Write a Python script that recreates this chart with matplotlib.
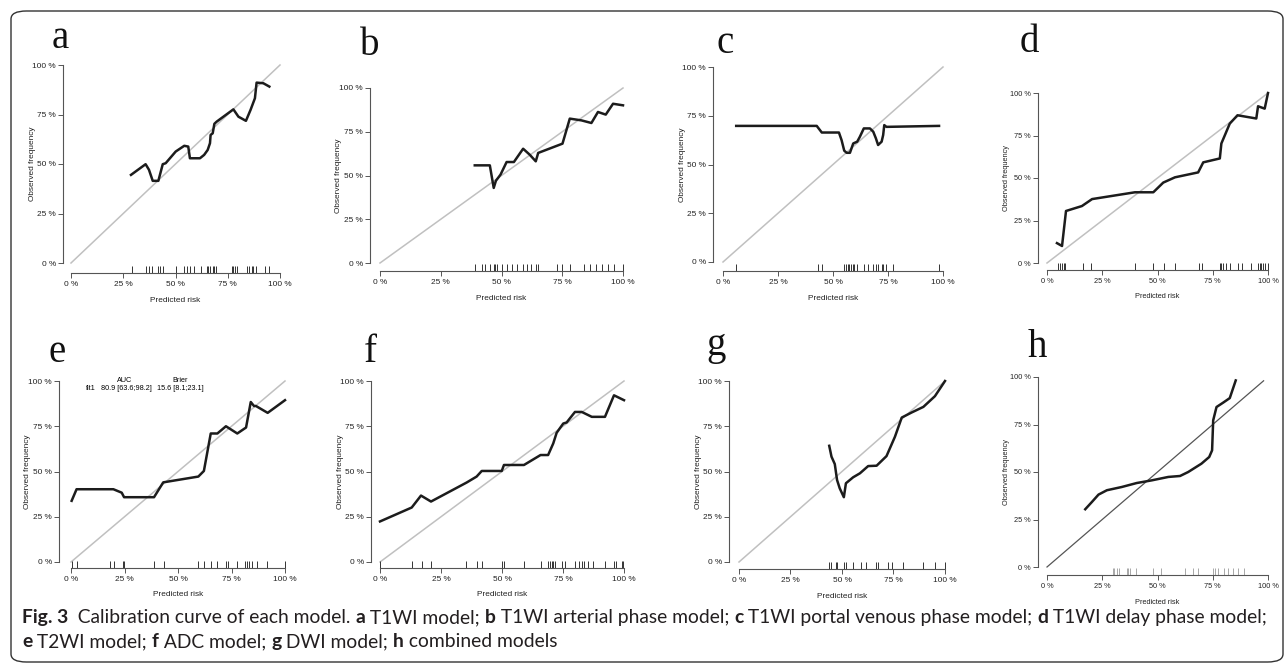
import matplotlib
matplotlib.use("Agg")
import matplotlib.pyplot as plt
from matplotlib.patches import FancyBboxPatch

plt.rcParams["font.family"] = ["Liberation Sans", "DejaVu Sans"]

# ---- data (percent) ----
a_x = [28.7, 35.7, 37.3, 39.1, 41.8, 43.9, 45.3, 50.1, 54.2, 56.1, 56.9, 61.7, 63.7, 65.4,
       66.5, 66.8, 67.8, 68.6, 69.7, 77.7, 80.1, 83.7, 85.9, 88.0, 88.8, 92.0, 94.9]
a_y = [44.5, 49.9, 47.1, 41.5, 41.5, 49.9, 50.4, 56.3, 59.2, 58.8, 52.9, 52.9, 54.6, 57.1,
       60.5, 64.7, 65.5, 70.3, 71.4, 77.6, 73.9, 71.8, 77.3, 83.2, 91.1, 90.8, 89.1]
a_rug = [29.3, 35.9, 37.3, 38.6, 41.5, 42.6, 44.2, 50.1, 54.2, 55.3, 56.9, 59.0, 62.0, 64.9,
         65.7, 66.5, 67.8, 68.6, 69.4, 76.9, 77.7, 78.5, 79.3, 84.1, 85.3, 86.4, 87.2, 88.5,
         92.8, 94.9]

b_x = [39.0, 45.2, 46.8, 47.7, 49.6, 52.1, 55.1, 58.9, 61.6, 64.1, 65.1, 75.1, 78.1, 82.9,
       87.0, 89.7, 92.9, 95.9, 100.0]
b_y = [55.8, 55.8, 42.9, 47.0, 50.5, 57.7, 57.7, 65.3, 61.9, 58.1, 62.9, 68.2, 82.5, 81.5,
       80.0, 86.3, 84.8, 91.0, 90.1]
b_rug = [39.0, 41.8, 43.4, 45.2, 46.8, 47.5, 48.2, 50.0, 52.1, 54.5, 56.4, 58.9, 60.5, 62.1,
         64.1, 65.1, 72.9, 75.1, 78.1, 84.0, 86.6, 89.0, 91.5, 93.8, 96.2, 100.0]

c_x = [6.0, 42.6, 44.9, 52.7, 53.9, 55.1, 56.2, 57.7, 59.2, 61.0, 62.2, 64.0, 66.8, 68.3,
       69.5, 70.5, 72.1, 72.8, 73.3, 74.3, 98.2]
c_y = [69.8, 69.8, 66.4, 66.4, 62.5, 57.1, 56.0, 56.0, 60.8, 61.7, 64.2, 68.5, 68.5, 66.8,
       63.4, 60.0, 61.7, 65.1, 70.2, 69.3, 69.8]
c_rug = [6.0, 43.1, 44.9, 55.0, 55.9, 56.6, 57.4, 58.2, 58.9, 59.7, 60.7, 64.2, 66.0, 68.3,
         69.5, 70.5, 72.1, 72.8, 73.9, 77.3, 98.0]

d_x = [4.5, 6.8, 8.6, 15.8, 20.4, 39.8, 48.1, 52.6, 57.9, 68.4, 70.7, 78.2, 78.9, 82.7,
       86.2, 94.7, 95.5, 98.5, 100.0]
d_y = [11.7, 10.0, 30.6, 33.5, 37.6, 41.6, 41.6, 47.3, 50.4, 53.3, 59.2, 61.5, 70.3, 82.0,
       86.9, 85.0, 92.2, 90.8, 100.0]
d_rug = [5.0, 6.0, 6.8, 7.5, 8.3, 16.2, 20.0, 39.8, 48.1, 53.1, 57.9, 68.9, 70.2, 78.2,
         78.9, 79.7, 81.2, 82.7, 86.2, 88.3, 92.2, 95.5, 96.2, 97.0, 97.7, 98.5, 100.0]

e_x = [0.3, 2.6, 19.8, 23.7, 24.8, 38.8, 43.1, 59.5, 62.1, 65.3, 68.4, 72.4, 77.7, 81.8,
       84.0, 85.5, 86.4, 91.9, 100.0]
e_y = [33.8, 40.2, 40.2, 38.3, 35.8, 35.8, 44.0, 47.2, 50.3, 71.0, 71.0, 75.0, 71.0, 74.3,
       88.4, 86.2, 86.2, 82.4, 89.4]
e_rug = [0.6, 2.6, 18.2, 20.2, 24.1, 24.8, 38.9, 43.5, 59.5, 62.3, 65.3, 68.4, 72.4, 73.5,
         77.4, 81.3, 82.4, 83.3, 84.4, 86.8, 91.7, 100.0]
e_auc = "80.9 [63.6;98.2]"
e_brier = "15.6 [8.1;23.1]"

f_x = [0.0, 13.0, 16.8, 20.9, 35.5, 39.6, 41.7, 49.9, 50.8, 59.0, 65.8, 68.9, 71.0, 72.4,
       75.1, 76.5, 79.9, 82.7, 86.8, 92.2, 95.9, 100.0]
f_y = [22.4, 30.1, 36.7, 33.4, 43.9, 47.2, 50.3, 50.3, 53.6, 53.6, 59.1, 59.1, 65.5, 71.4,
       76.5, 77.1, 82.9, 82.9, 80.2, 80.2, 92.1, 89.4]
f_rug = [0.0, 13.0, 17.1, 20.9, 35.2, 39.6, 41.7, 49.9, 50.8, 59.0, 65.8, 68.9, 69.7, 70.4,
         71.0, 71.7, 74.7, 75.8, 79.9, 81.7, 82.7, 83.6, 85.4, 87.4, 92.2, 95.9, 96.6, 99.0,
         99.7]

g_x = [43.8, 44.9, 46.5, 47.6, 48.9, 50.9, 51.9, 55.4, 58.7, 62.7, 66.8, 71.6, 75.7, 79.0,
       83.8, 89.5, 95.1, 100.0]
g_y = [64.2, 58.2, 54.1, 45.3, 40.7, 35.8, 43.5, 46.8, 49.0, 53.0, 53.2, 58.5, 69.2, 79.8,
       82.6, 85.7, 91.6, 100.0]
g_rug = [43.8, 44.6, 47.0, 47.8, 50.9, 51.7, 55.1, 59.0, 61.6, 66.5, 67.6, 72.5, 74.2, 79.6,
         89.3, 95.3, 100.0]

h_x = [17.3, 20.3, 23.3, 27.1, 33.8, 40.6, 47.4, 54.9, 60.2, 63.9, 69.9, 73.4, 74.7, 75.2,
       76.7, 79.7, 82.7, 85.4]
h_y = [30.4, 34.2, 38.1, 40.4, 42.1, 44.2, 45.6, 47.4, 47.9, 50.0, 54.4, 57.9, 61.4, 77.2,
       84.2, 86.5, 88.9, 98.2]
h_rug = [29.8, 30.4, 31.6, 32.8, 36.1, 36.8, 37.6, 40.2, 48.1, 51.6, 62.4, 66.2, 68.4, 75.2,
         75.9, 77.4, 80.1, 82.0, 84.2, 86.2, 89.2]

tick_vals = [0, 25, 50, 75, 100]
tick_labels = ["0 %", "25 %", "50 %", "75 %", "100 %"]

W, H = 1285, 668
fig = plt.figure(figsize=(W / 100, H / 100), dpi=100)


def fx(x):
    return x / W


def fy(y):
    return 1 - y / H


# panel boxes in pixels: x(0%), x(100%), y(0%), y(100%), y-spine offset, x-spine offset
panels = [
    ("a", a_x, a_y, a_rug, (71, 280, 263, 65, 8, 10), (52, 48), 7.0),
    ("b", b_x, b_y, b_rug, (380, 623, 263, 88, 10, 8), (360, 55), 7.0),
    ("c", c_x, c_y, c_rug, (723, 943, 262, 67, 10, 9), (716, 53), 7.0),
    ("d", d_x, d_y, d_rug, (1047, 1268, 263, 93, 9, 7), (1020, 52), 6.2),
    ("e", e_x, e_y, e_rug, (71, 285, 562, 381, 12, 6), (48, 362), 7.0),
    ("f", f_x, f_y, f_rug, (380, 624, 562, 381, 9, 6), (364, 362), 7.0),
    ("g", g_x, g_y, g_rug, (739, 945, 562, 381, 10, 7), (706, 355), 7.0),
    ("h", h_x, h_y, h_rug, (1047, 1268, 567, 377, 9, 8), (1028, 357), 6.2),
]

axis_gray = "#555555"
for letter, xs, ys, rug, box, lab_pos, fs in panels:
    x0, x1, y0, y1, yoff, xoff = box
    ax = fig.add_axes([fx(x0), fy(y0), (x1 - x0) / W, (y0 - y1) / H])
    ax.set_xlim(0, 1)
    ax.set_ylim(0, 1)
    ax.patch.set_alpha(0)
    for s in ["top", "right"]:
        ax.spines[s].set_visible(False)
    ax.spines["left"].set_position(("outward", yoff * 0.72))
    ax.spines["bottom"].set_position(("outward", xoff * 0.72))
    ax.spines["left"].set_bounds(0, 1)
    ax.spines["bottom"].set_bounds(0, 1)
    for s in ["left", "bottom"]:
        ax.spines[s].set_color(axis_gray)
        ax.spines[s].set_linewidth(0.8)
    ax.set_xticks([v / 100 for v in tick_vals])
    ax.set_yticks([v / 100 for v in tick_vals])
    ax.set_xticklabels(tick_labels)
    ax.set_yticklabels(tick_labels)
    ax.tick_params(direction="out", length=3.5, width=0.7, color=axis_gray,
                   labelsize=fs * 0.85, labelcolor="#222222")
    ax.tick_params(axis="x", pad=2.5)
    ax.tick_params(axis="y", pad=1.5)

    # reference diagonal
    if letter == "h":
        ax.plot([0, 0.98], [0, 0.98], color="#555555", lw=0.9, clip_on=False)
    else:
        ax.plot([0, 1], [0, 1], color="#c0c0c0", lw=1.1, clip_on=False)

    # calibration curve
    ax.plot([v / 100 for v in xs], [v / 100 for v in ys], color="#1c1c1c", lw=1.8,
            solid_joinstyle="round", clip_on=False)

    # rug of predicted risks, sitting on the x axis line
    hpx = y0 - y1
    rug_col = "#a8a8a8" if letter == "h" else "#333333"
    ax.vlines([v / 100 for v in rug], -xoff / hpx, -(xoff - 7) / hpx,
              transform=ax.get_xaxis_transform(), color=rug_col, lw=0.7, clip_on=False)

    # axis titles
    fig.text(fx((x0 + x1) / 2), fy(y0 + xoff + 27), "Predicted risk", ha="center",
             va="center", fontsize=fs * 0.85, color="#222222")
    fig.text(fx(x0 - yoff - 31), fy((y0 + y1) / 2), "Observed frequency", ha="center",
             va="center", rotation=90, fontsize=fs * 0.85, color="#222222")

    # panel letter
    fig.text(fx(lab_pos[0]), fy(lab_pos[1]), letter, ha="left", va="baseline",
             fontsize=28, family="Liberation Serif", color="#111111")

# AUC / Brier summary in panel e
fs_e = 5.2
fig.text(fx(125), fy(381), "AUC", ha="center", va="center", fontsize=fs_e)
fig.text(fx(180), fy(381), "Brier", ha="center", va="center", fontsize=fs_e)
fig.text(fx(86), fy(389), "fit1", ha="left", va="center", fontsize=fs_e)
fig.text(fx(101), fy(389), e_auc, ha="left", va="center", fontsize=fs_e)
fig.text(fx(157), fy(389), e_brier, ha="left", va="center", fontsize=fs_e)

# rounded frame around the whole figure
frame = FancyBboxPatch((fx(11), fy(662)), fx(1283) - fx(11), fy(11) - fy(662),
                       boxstyle="round,pad=0,rounding_size=0.012",
                       transform=fig.transFigure, fill=False, ec="#333333", lw=1.0)
fig.patches.append(frame)

# caption with bold runs
cap1 = [("Fig. 3", True), ("  Calibration curve of each model. ", False), ("a", True),
        (" T1WI model; ", False), ("b", True), (" T1WI arterial phase model; ", False),
        ("c", True), (" T1WI portal venous phase model; ", False), ("d", True),
        (" T1WI delay phase model;", False)]
cap2 = [("e", True), (" T2WI model; ", False), ("f", True), (" ADC model; ", False),
        ("g", True), (" DWI model; ", False), ("h", True), (" combined models", False)]

cap_font = ["Lato", "DejaVu Sans"]
renderer = fig.canvas.get_renderer()


def run_width(parts, size):
    total = 0
    for txt, bold in parts:
        t = fig.text(0, 0, txt.replace(" ", "\u00a0"), fontsize=size, family=cap_font,
                     fontweight="bold" if bold else "normal")
        total += t.get_window_extent(renderer).width
        t.remove()
    return total


base = 10
cap_size = base * (1272 - 22) / run_width(cap1, base)


def draw_line(parts, x, y, size):
    for txt, bold in parts:
        t = fig.text(fx(x), fy(y), txt.replace(" ", "\u00a0"), fontsize=size,
                     family=cap_font, fontweight="bold" if bold else "normal",
                     ha="left", va="baseline", color="#231f20")
        x += t.get_window_extent(renderer).width


draw_line(cap1, 22, 623, cap_size)
draw_line(cap2, 22, 647, cap_size)

fig.savefig("out.png", dpi=100)
